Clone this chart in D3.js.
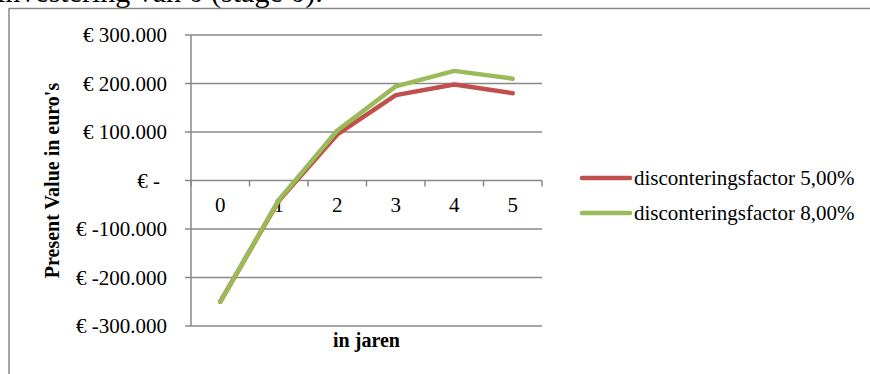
<!DOCTYPE html>
<html>
<head>
<meta charset="utf-8">
<script src="https://cdn.jsdelivr.net/npm/d3@7/dist/d3.min.js"></script>
<style>
  html, body { margin: 0; padding: 0; background: #fff; }
  svg { display: block; }
  text { font-family: "Liberation Serif", "DejaVu Serif", serif; fill: #000; }
</style>
</head>
<body>
<svg id="chart" width="870" height="374"></svg>
<script>
// Years on the x axis
const years = ["0", "1", "2", "3", "4", "5"];
// Present value per year (euro) for each discount rate
const pv5 = [-250000, -42000, 95000, 176000, 198000, 180000];
const pv8 = [-250000, -40000, 103000, 194000, 226000, 210000];
const seriesNames = ["disconteringsfactor 5,00%", "disconteringsfactor 8,00%"];
const seriesColors = ["#C0504D", "#9BBB59"];
// Value axis ticks and their labels
const yTicks = [300000, 200000, 100000, 0, -100000, -200000, -300000];
const yTickLabels = ["€ 300.000", "€ 200.000", "€ 100.000", "€ -", "€ -100.000", "€ -200.000", "€ -300.000"];

const svg = d3.select("#chart");
const gridColor = "#898989";

// Caption line above the chart (partly outside the page)
svg.append("text")
  .attr("x", -3).attr("y", 2)
  .style("font-size", "30px")
  .text("investering van 0 (stage 0).");

// Chart frame
svg.append("rect")
  .attr("x", 9).attr("y", 8.5)
  .attr("width", 870).attr("height", 400)
  .attr("fill", "none")
  .attr("stroke", gridColor)
  .attr("stroke-width", 1.5);

const plot = { left: 191, right: 542, top: 35, bottom: 326 };

const x = d3.scaleBand().domain(years).range([plot.left, plot.right]);
const y = d3.scaleLinear().domain([-300000, 300000]).range([plot.bottom, plot.top]);

// Horizontal gridlines with small tick stubs left of the axis
svg.append("g")
  .selectAll("line")
  .data(yTicks)
  .join("line")
  .attr("x1", plot.left - 6).attr("x2", plot.right)
  .attr("y1", d => y(d)).attr("y2", d => y(d))
  .attr("stroke", gridColor).attr("stroke-width", 1.5);

// Value axis line
svg.append("line")
  .attr("x1", plot.left).attr("x2", plot.left)
  .attr("y1", y(300000)).attr("y2", y(-300000))
  .attr("stroke", gridColor).attr("stroke-width", 1.5);

// Category axis crossing at zero
const xAxis = d3.axisBottom(x).tickSize(0).tickFormat(d => d);
const gx = svg.append("g")
  .attr("transform", `translate(0,${y(0)})`)
  .call(xAxis);
gx.select(".domain").remove();
gx.selectAll("text")
  .attr("dy", null)
  .attr("y", 31)
  .style("font-size", "21px")
  .style("font-family", "'Liberation Serif', serif");

// Tick marks on category boundaries
const boundaries = years.map(d => x(d)).concat([x(years[years.length - 1]) + x.bandwidth()]);
svg.append("g")
  .selectAll("line")
  .data(boundaries)
  .join("line")
  .attr("x1", d => d).attr("x2", d => d)
  .attr("y1", y(0)).attr("y2", y(0) + 6)
  .attr("stroke", gridColor).attr("stroke-width", 1.5);

// Value axis labels
svg.append("g")
  .selectAll("text")
  .data(yTicks)
  .join("text")
  .attr("x", d => d === 0 ? 160 : 167)
  .attr("y", d => y(d) + 7)
  .attr("text-anchor", "end")
  .style("font-size", "21px")
  .text((d, i) => yTickLabels[i]);

// Series lines
const line = d3.line()
  .x((d, i) => x(years[i]) + x.bandwidth() / 2)
  .y(d => y(d));

[pv5, pv8].forEach((vals, k) => {
  svg.append("path")
    .datum(vals)
    .attr("d", line)
    .attr("fill", "none")
    .attr("stroke", seriesColors[k])
    .attr("stroke-width", 4.5)
    .attr("stroke-linecap", "round")
    .attr("stroke-linejoin", "round");
});

// Axis titles
svg.append("text")
  .attr("transform", `translate(59,${(plot.top + plot.bottom) / 2}) rotate(-90)`)
  .attr("text-anchor", "middle")
  .style("font-size", "20px")
  .style("font-weight", "bold")
  .text("Present Value in euro's");

svg.append("text")
  .attr("x", (plot.left + plot.right) / 2)
  .attr("y", 347)
  .attr("text-anchor", "middle")
  .style("font-size", "20px")
  .style("font-weight", "bold")
  .text("in jaren");

// Legend
const legend = svg.append("g");
seriesNames.forEach((name, k) => {
  const ly = 178 + k * 35;
  legend.append("line")
    .attr("x1", 582).attr("x2", 630)
    .attr("y1", ly).attr("y2", ly)
    .attr("stroke", seriesColors[k])
    .attr("stroke-width", 4.5)
    .attr("stroke-linecap", "round");
  legend.append("text")
    .attr("x", 634).attr("y", ly + 7)
    .style("font-size", "21px")
    .text(name);
});
</script>
</body>
</html>
